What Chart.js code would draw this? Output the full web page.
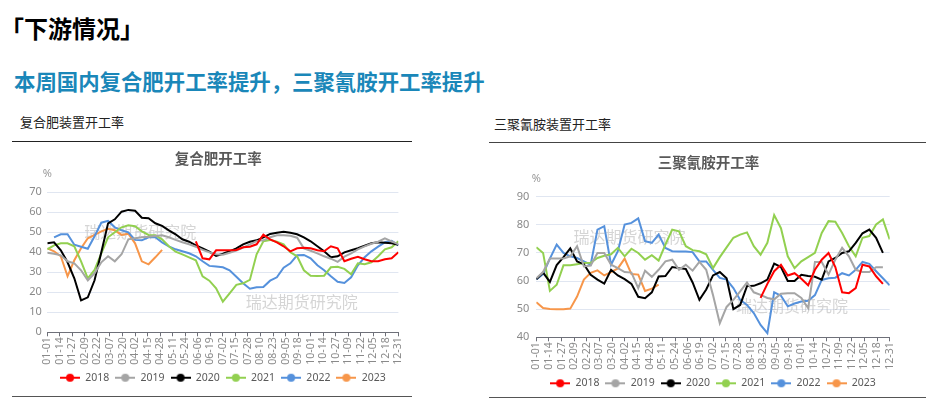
<!DOCTYPE html>
<html lang="zh">
<head>
<meta charset="utf-8">
<title>下游情况</title>
<script src="https://cdn.jsdelivr.net/npm/chart.js@4.4.1/dist/chart.umd.min.js"></script>
<style>
  html, body { margin: 0; padding: 0; background: #fff; }
  body { width: 930px; height: 402px; position: relative; overflow: hidden;
         font-family: "Noto Sans CJK SC", "Noto Sans", sans-serif; }
  .head { position: absolute; left: 0px; top: 16px; font-size: 24px; line-height: 1; font-weight: bold; color: #000; }
  .sub { position: absolute; left: 14px; top: 70px; font-size: 21.4px; line-height: 1; font-weight: bold; color: #1a87b9; }
  .cap { position: absolute; font-size: 13px; line-height: 1; color: #222; }
  .rule { position: absolute; height: 0; }
  canvas { position: absolute; }
</style>
</head>
<body>
<div class="head">「下游情况」</div>
<div class="sub">本周国内复合肥开工率提升，三聚氰胺开工率提升</div>
<div class="cap" style="left:20px;top:115px">复合肥装置开工率</div>
<div class="cap" style="left:494px;top:117px">三聚氰胺装置开工率</div>
<div class="rule" style="left:12px;top:141px;width:400px;border-top:1.3px solid #222"></div>
<div class="rule" style="left:489px;top:142px;width:437px;border-top:1.3px solid #444"></div>
<div class="rule" style="left:12px;top:396px;width:400px;border-top:1.5px solid #555"></div>
<div class="rule" style="left:489px;top:397px;width:437px;border-top:1.5px solid #555"></div>

<canvas id="fert" width="400" height="250" style="left:12px;top:145px"></canvas>
<canvas id="mel" width="430" height="256" style="left:489px;top:145px"></canvas>

<script>
// x-axis labels (every 13 days)
const tickLabels = ['01-01','01-14','01-27','02-09','02-22','03-07','03-20','04-02','04-15','04-28',
  '05-11','05-24','06-06','06-19','07-02','07-15','07-28','08-10','08-23','09-05','09-18',
  '10-01','10-14','10-27','11-09','11-22','12-05','12-18','12-31'];

// weekly observation dates
const weekDates = ['01-01','01-08','01-15','01-22','01-29','02-05','02-12','02-19','02-26','03-05',
  '03-12','03-19','03-26','04-02','04-09','04-16','04-23','04-30','05-07','05-14','05-21','05-28',
  '06-04','06-11','06-18','06-25','07-02','07-09','07-16','07-23','07-30','08-06','08-13','08-20',
  '08-27','09-03','09-10','09-17','09-24','10-01','10-08','10-15','10-22','10-29','11-05','11-12',
  '11-19','11-26','12-03','12-10','12-17','12-24','12-31'];

const years = ['2018', '2019', '2020', '2021', '2022', '2023'];

// 复合肥开工率 (%)
const fert2018 = [null,null,null,null,null,null,null,null,null,null,null,null,null,null,null,null,
  null,null,null,null,null,null,45.5,37,36.5,41,41,41,41.2,42.5,42.8,44,48.8,46.5,45,43,40.5,42,
  42.3,42,41,40.5,43,42,35.5,36.8,37.8,36.5,35.5,35.5,36.5,37,40];
const fert2019 = [39.8,39.3,38.5,35.5,34.5,31,26,29.5,35,38,35.5,39,46.5,47,47.5,47.8,48.2,48.5,
  47.5,46.2,45,44,42.8,41.2,40,39,38.8,39.8,40.9,42.3,44,45.6,46,47.5,48.5,48.5,48.3,47.3,42,40.8,
  39.5,38,36.8,35.2,37.8,39.5,41.5,43,44.3,45.3,47,45.5,44];
const fert2020 = [44.5,45,41,35,27,16,17.5,26,40,54.5,56.5,60.3,61.2,60.8,57.3,57,54.5,53.2,51,49,
  46.5,45.3,43.5,42,40.3,38.2,39.3,40.5,42,44,45.3,46,47.5,49.2,49.8,50.3,49.8,49,47.5,45.5,43,
  40.5,37.5,38,40,41,42,43.3,44.5,45,44.8,44.5,43.8];
const fert2021 = [41.5,43.5,44.5,44.5,43,35.5,27,31.2,39.5,47.5,50,52.5,53.5,53,50.5,48.7,48.5,46.5,
  43,40.3,39,37.5,36,28,25.8,22,15.3,19.5,23.7,24.5,26.2,39,45.5,46.2,45.3,44,40,38,31,28.3,28.2,
  28.3,32.5,32.8,31.7,29,34.5,34,35,38,41.5,42.5,45.5];
const fert2022 = [null,47.5,49,49,43.8,42.8,41.8,48,54.8,55.7,52.5,51,50,46.2,46,47.5,47.5,45,43,
  41.5,40.5,39.5,38,35.5,33.2,32.9,32.5,31,27.8,24.5,21.8,22.5,22.6,25.8,27.5,32.3,34.5,38.5,38.7,
  37,33.5,31,28,25.3,24.7,27.5,33.5,37.5,40.5,42.8,45,45.8,43.5];
const fert2023 = [42,40.5,38,28,36,42,47,48.7,50.5,51.8,51,48.7,49.3,44.5,35.5,34,37.5,41.2,
  null,null,null,null,null,null,null,null,null,null,null,null,null,null,null,null,null,null,null,
  null,null,null,null,null,null,null,null,null,null,null,null,null,null,null,null];

// 三聚氰胺开工率 (%)
const mel2018 = [null,null,null,null,null,null,null,null,null,null,null,null,null,null,null,null,
  null,null,null,null,null,null,null,null,null,null,null,null,null,null,null,null,null,54,59,63.5,
  65.8,62,62.8,60.8,58.5,64,67.6,70,65,56,55.7,57.5,65.8,65.2,61.7,59,null];
const mel2019 = [61,63.2,68,68,68,68.8,72.4,65.2,65.5,70,70,65.8,64.6,63.2,63,57.5,63.7,61.5,64,67,
  67.6,64,65.8,63.7,66.8,64,55,45,50.8,53.3,56.3,59.5,56,55.1,54,53.5,55.5,55.7,55.7,54,50.4,66.8,
  66.8,62.3,67.6,71.8,68.8,64,63.2,63.2,64.9,64.9,null];
const mel2020 = [60.6,63,59.7,65.7,68.5,71.6,67,66,62.2,60.5,59.1,64,62,60.7,59,54.4,53.9,56,61.6,
  61.8,65,64.6,64.3,59.5,53.3,57,62,63.2,61,50,51.5,58.2,58.3,59.2,60.5,66.2,65,60,60,62.2,61.8,
  61.5,60.5,67,68.2,70,70.6,73.6,77,78.3,75.4,70,null];
const mel2021 = [72,70,56.5,58.7,65.6,65.6,66,66.4,66.5,68.2,69,69.5,71.8,68.8,71.5,70,67.6,69.2,
  67.3,73,78.3,77.7,72.4,71,70.6,69.5,64.6,68.5,72,75.4,76.5,77.3,72.4,69.4,73.6,83.5,78.8,68.8,
  64.6,67,68.5,70,77.1,81.3,81.1,77.1,72.4,68.8,75.4,76,80.1,81.9,74.8];
const mel2022 = [60.6,62.5,68,73,70,68.8,68.2,67,65.8,78.3,79.5,65.8,70.6,80.1,80.7,82.3,74.2,73.6,
  76.5,71.8,70.6,70.5,70.5,70.3,67,67,64,61.1,60.5,57.5,53.3,51.5,48.6,44.4,41.5,56,54.8,51,52,
  52.7,53,55,60.4,61,61.2,62.8,62,64,66.8,66.1,63.5,61,58.5];
const mel2023 = [52.5,50.4,50.1,50,50,50.2,54.5,60.5,62.9,63.8,62,63.2,64.5,68,62.5,62.3,56.5,57.3,
  58.7,null,null,null,null,null,null,null,null,null,null,null,null,null,null,null,null,null,null,
  null,null,null,null,null,null,null,null,null,null,null,null,null,null,null,null];

const lineColors = ['#FF0000', '#A5A5A5', '#000000', '#92D050', '#5591DC', '#F7964A'];
const FONT = '"Noto Sans", "Noto Sans CJK SC", sans-serif';
Chart.defaults.font.family = FONT;

function dayOfYear(md) {
  const [m, d] = md.split('-').map(Number);
  return (Date.UTC(2019, m - 1, d) - Date.UTC(2019, 0, 1)) / 86400000;
}

// small line+dot icon for the legend
function legendIcon(color) {
  const c = document.createElement('canvas');
  c.width = 20; c.height = 10;
  const g = c.getContext('2d');
  g.strokeStyle = color; g.lineWidth = 2;
  g.beginPath(); g.moveTo(0, 5); g.lineTo(20, 5); g.stroke();
  g.fillStyle = color;
  g.beginPath(); g.arc(10, 5, 4, 0, Math.PI * 2); g.fill();
  return c;
}
const icons = lineColors.map(legendIcon);

// title, % unit and watermark
const decor = {
  id: 'decor',
  beforeDatasetsDraw(chart) {
    const {ctx, chartArea: a} = chart;
    ctx.save();
    ctx.font = '16px "Noto Sans CJK SC"';
    ctx.fillStyle = 'rgba(185,185,185,0.6)';
    ctx.textAlign = 'left';
    ctx.textBaseline = 'middle';
    [[0.105, 0.285], [0.565, 0.78]].forEach(([fx, fy]) => {
      ctx.fillText('瑞达期货研究院', a.left + a.width * fx, a.top + a.height * fy);
    });
    ctx.restore();
  },
  afterDraw(chart, args, opts) {
    const {ctx, chartArea: a} = chart;
    ctx.save();
    ctx.textAlign = 'center';
    ctx.textBaseline = 'middle';
    ctx.fillStyle = '#595959';
    ctx.font = 'bold 14.5px "Noto Sans CJK SC"';
    ctx.fillText(opts.text, (a.left + a.right) / 2 - 4.5, a.top - 34);
    ctx.fillStyle = '#999';
    ctx.font = '11px ' + FONT;
    ctx.fillText('%', a.left, a.top - 18);
    ctx.restore();
  }
};

function makeChart(id, title, series, yMin, yMax, box) {
  const datasets = series.map((vals, k) => ({
    label: years[k],
    data: weekDates.map((d, i) => ({x: dayOfYear(d), y: vals[i]})),
    borderColor: lineColors[k],
    backgroundColor: lineColors[k],
    borderWidth: 2,
    pointRadius: 0,
    tension: 0
  }));

  return new Chart(document.getElementById(id), {
    type: 'line',
    data: {datasets},
    plugins: [decor],
    options: {
      responsive: false,
      animation: false,
      layout: {padding: box.padding},
      plugins: {
        legend: {
          position: 'bottom',
          fullSize: false,
          labels: {
            usePointStyle: true,
            pointStyleWidth: 20,
            boxHeight: 10,
            padding: 6,
            color: '#595959',
            font: {size: 10.5},
            generateLabels(chart) {
              const items = Chart.defaults.plugins.legend.labels.generateLabels(chart);
              items.forEach(it => { it.pointStyle = icons[it.datasetIndex]; });
              return items;
            }
          }
        },
        tooltip: {enabled: false},
        decor: {text: title}
      },
      scales: {
        x: {
          type: 'linear',
          min: 0,
          max: 364,
          afterFit: s => { s.height = box.xHeight; },
          grid: {drawOnChartArea: false, tickLength: 4, color: '#6E7079'},
          border: {color: '#6E7079'},
          ticks: {
            stepSize: 13,
            autoSkip: false,
            maxTicksLimit: 40,
            maxRotation: 90,
            minRotation: 90,
            padding: 1,
            color: '#8a8a8a',
            font: {size: 10.5},
            callback: v => tickLabels[Math.round(v / 13)]
          }
        },
        y: {
          min: yMin,
          max: yMax,
          afterFit: s => { s.width = box.yWidth; },
          grid: {color: '#E0E6F1', drawTicks: false},
          border: {display: false},
          ticks: {stepSize: 10, padding: box.tickPad, color: '#8a8a8a', font: {size: 11}}
        }
      }
    }
  });
}

makeChart('fert', '复合肥开工率', [fert2018, fert2019, fert2020, fert2021, fert2022, fert2023], 0, 70,
  {padding: {top: 47.3, right: 11, bottom: 2, left: 0}, yWidth: 35.3, xHeight: 34.2, tickPad: 5.5});
makeChart('mel', '三聚氰胺开工率', [mel2018, mel2019, mel2020, mel2021, mel2022, mel2023], 40, 90,
  {padding: {top: 51.7, right: 29.3, bottom: 2.45, left: 0}, yWidth: 47.3, xHeight: 34.75, tickPad: 7});
</script>
</body>
</html>
